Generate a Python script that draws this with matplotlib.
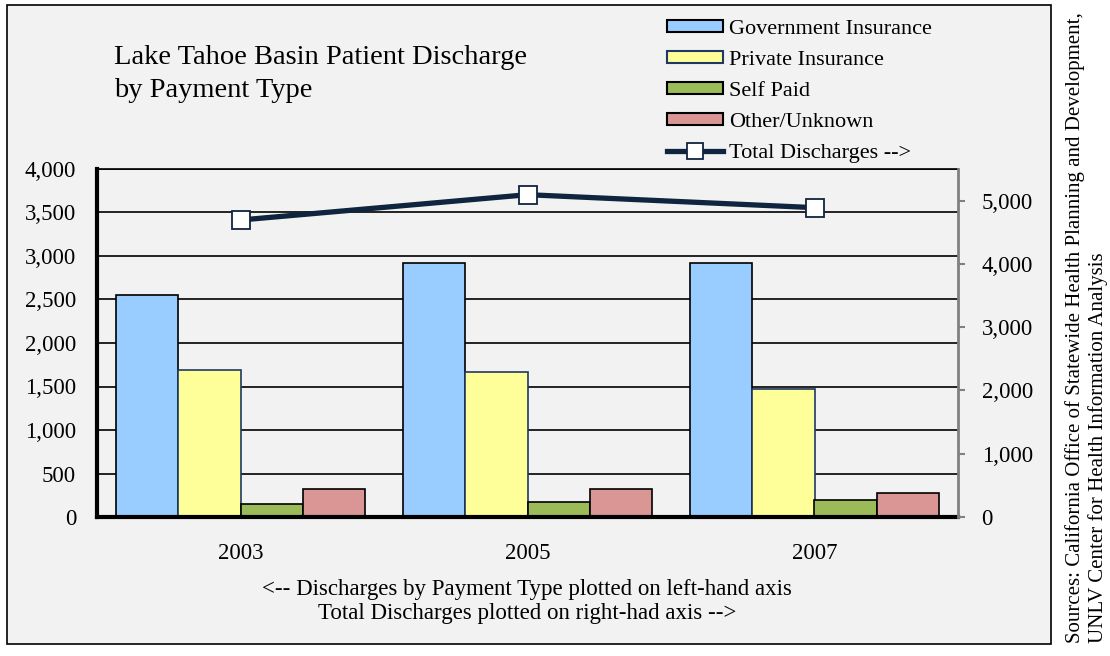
import matplotlib

matplotlib.use("Agg")
import matplotlib.pyplot as plt
import numpy as np
from matplotlib.lines import Line2D
from matplotlib.patches import Patch, Rectangle

plt.rcParams["font.family"] = ["Liberation Serif", "DejaVu Serif"]

years = ["2003", "2005", "2007"]
government = [2550, 2915, 2915]
private = [1690, 1665, 1475]
self_paid = [150, 172, 195]
other = [318, 318, 272]
total = [4694, 5094, 4889]

series = [
    ("Government Insurance", government, "#99CCFF", "black"),
    ("Private Insurance", private, "#FFFF99", "#1F3864"),
    ("Self Paid", self_paid, "#9BBB59", "black"),
    ("Other/Unknown", other, "#D99694", "black"),
]
navy = "#0F243E"

fig = plt.figure(figsize=(11.1, 6.56), dpi=100, facecolor="white")

# outer chart frame
fig.patches.append(Rectangle((7 / 1110, 12 / 656), 1044 / 1110, 639 / 656,
                             transform=fig.transFigure, facecolor="#F2F2F2",
                             edgecolor="black", linewidth=1.2, zorder=-5))

ax = fig.add_axes([97 / 1110, 139 / 656, 861 / 1110, 348 / 656])
ax.patch.set_alpha(0)

x = np.arange(len(years))
w = 0.2174
for i, (name, vals, fc, ec) in enumerate(series):
    ax.bar(x + (i - 1.5) * w, vals, w, color=fc, edgecolor=ec, linewidth=1.2, zorder=3)

ax.set_xlim(-0.5, 2.5)
ax.set_ylim(0, 4000)
ax.set_yticks(np.arange(0, 4001, 500))
ax.set_yticklabels([f"{v:,}" for v in range(0, 4001, 500)])
ax.set_xticks(x)
ax.set_xticklabels(years)
ax.tick_params(axis="x", length=0, pad=19, labelsize=16.5)
ax.tick_params(axis="y", length=0, pad=15, labelsize=16.5)
ax.grid(axis="y", color="black", linewidth=1.2, zorder=1)
ax.set_axisbelow(True)
ax.spines["left"].set_linewidth(3)
ax.spines["bottom"].set_linewidth(3)
ax.spines["bottom"].set_zorder(5)
ax.spines["top"].set_linewidth(1.2)
ax.spines["right"].set_visible(False)

ax2 = ax.twinx()
ax2.plot(x, total, color=navy, linewidth=3.8, marker="s", markersize=13,
         markerfacecolor="white", markeredgecolor=navy, markeredgewidth=1.3, zorder=6)
ax2.set_ylim(0, 5500)
ax2.set_yticks(np.arange(0, 5001, 1000))
ax2.set_yticklabels([f"{v:,}" for v in range(0, 5001, 1000)])
ax2.tick_params(axis="y", length=5, width=1.5, color="#808080", pad=12, labelsize=16.5)
for s in ["left", "top", "bottom"]:
    ax2.spines[s].set_visible(False)
ax2.spines["right"].set_color("#808080")
ax2.spines["right"].set_linewidth(2)

fig.text(114 / 1110, 1 - 64 / 656, "Lake Tahoe Basin Patient Discharge",
         fontsize=20.5, va="baseline", ha="left")
fig.text(114 / 1110, 1 - 97 / 656, "by Payment Type",
         fontsize=20.5, va="baseline", ha="left")

fig.text(527 / 1110, 1 - 590 / 656,
         "<-- Discharges by Payment Type plotted on left-hand axis",
         fontsize=16.5, ha="center", va="center")
fig.text(527 / 1110, 1 - 614 / 656,
         "Total Discharges plotted on right-had axis -->",
         fontsize=16.5, ha="center", va="center")

fig.text(1075 / 1110, 13 / 656,
         "Sources: California Office of Statewide Health Planning and Development,",
         fontsize=15, rotation=90, ha="center", va="bottom")
fig.text(1098 / 1110, 13 / 656, "UNLV Center for Health Information Analysis",
         fontsize=15, rotation=90, ha="center", va="bottom")

handles = [Patch(facecolor=fc, edgecolor=ec, linewidth=1.5) for _, _, fc, ec in series]
handles.append(Line2D([], [], color=navy, linewidth=3.8, marker="s", markersize=11,
                      markerfacecolor="white", markeredgecolor=navy, markeredgewidth=1.3))
labels = [s[0] for s in series] + ["Total Discharges -->"]
fig.legend(handles, labels, loc="upper left", bbox_to_anchor=(667 / 1110, 1 - 20 / 656),
           frameon=False, fontsize=16, handlelength=2.5, handleheight=0.45,
           labelspacing=0.54, handletextpad=0.3, borderpad=0, borderaxespad=0)

fig.savefig("out.png", dpi=100, facecolor="white")
